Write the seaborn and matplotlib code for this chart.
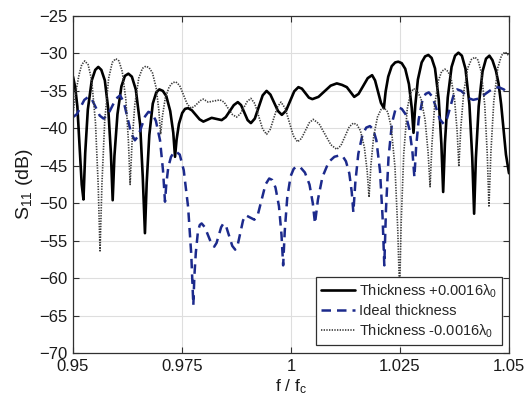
import matplotlib
matplotlib.use("Agg")
import matplotlib.pyplot as plt
import seaborn as sns
import pandas as pd

# Normalised frequency and reflection coefficient for the three layer thicknesses
f_plus = [0.9500, 0.9505, 0.9510, 0.9516, 0.9520, 0.9524, 0.9528, 0.9534, 0.9543, 0.9551,
          0.9558, 0.9565, 0.9573, 0.9581, 0.9587, 0.9591, 0.9595, 0.9602, 0.9611, 0.9619,
          0.9627, 0.9635, 0.9644, 0.9654, 0.9660, 0.9665, 0.9669, 0.9675, 0.9683, 0.9691,
          0.9698, 0.9706, 0.9714, 0.9723, 0.9730, 0.9734, 0.97376, 0.9743, 0.97505, 0.9757,
          0.9764, 0.97728, 0.97815, 0.97903, 0.9799, 0.98085, 0.9818, 0.98295, 0.9841, 0.98503,
          0.98595, 0.98688, 0.9878, 0.98855, 0.9893, 0.99005, 0.9908, 0.9917, 0.9926, 0.9935,
          0.9944, 0.99528, 0.99615, 0.99703, 0.9979, 0.99885, 0.9998, 1.00075, 1.0017, 1.0025,
          1.0033, 1.0041, 1.0049, 1.0063, 1.0077, 1.0091, 1.0105, 1.0117, 1.0128, 1.0137,
          1.0145, 1.0155, 1.01655, 1.0176, 1.0186, 1.01928, 1.01995, 1.02063, 1.0213, 1.0217,
          1.0223, 1.0231, 1.0239, 1.0246, 1.0254, 1.0262, 1.02705, 1.0277, 1.0281, 1.0285,
          1.0291, 1.02997, 1.03075, 1.0315, 1.03225, 1.03303, 1.03388, 1.03449, 1.0349, 1.0353,
          1.03595, 1.03683, 1.03763, 1.0384, 1.03919, 1.04002, 1.04092, 1.04157, 1.0420, 1.0424,
          1.04305, 1.04393, 1.04473, 1.0455, 1.0462, 1.0470, 1.0476, 1.0482, 1.0487, 1.0493,
          1.0500]
s11_plus = [-33.1, -34.5, -37.1, -43.5, -47.5, -49.5, -43.3, -37.5, -33.6, -32.2,
            -31.8, -32.2, -33.6, -37.5, -43.4, -49.6, -43.7, -38.1, -34.4, -33.0,
            -32.7, -33.1, -34.8, -39.5, -46.5, -54.0, -47.3, -40.9, -36.7, -35.2,
            -34.8, -35.0, -35.7, -37.7, -40.6, -43.8, -41.5, -39.4, -37.95, -37.4,
            -37.3, -37.6, -38.2, -38.8, -39.1, -38.85, -38.6, -38.75, -38.9, -38.5,
            -37.7, -36.9, -36.5, -36.9, -37.9, -38.9, -39.3, -38.7, -37.15, -35.6,
            -35.0, -35.5, -36.6, -37.7, -38.2, -37.65, -36.35, -35.05, -34.5, -34.7,
            -35.3, -35.9, -36.1, -35.8, -35.05, -34.3, -34.0, -34.2, -34.5, -35.2,
            -35.8, -35.4, -34.35, -33.3, -32.9, -33.6, -35.1, -36.6, -37.3, -35.1,
            -33.1, -31.7, -31.2, -31.1, -31.3, -32.05, -34.1, -37.3, -40.6, -36.95,
            -33.5, -31.2, -30.4, -30.2, -30.6, -32.0, -36.1, -42.1, -48.5, -42.0,
            -35.9, -31.8, -30.3, -29.9, -30.3, -32.05, -36.8, -43.9, -51.4, -44.0,
            -37.05, -32.4, -30.7, -30.3, -30.9, -32.3, -34.0, -36.8, -39.8, -43.5,
            -46.0]

f_ideal = [0.9500, 0.9509, 0.95175, 0.9526, 0.9535, 0.95438, 0.95525, 0.95613, 0.9570, 0.95795,
           0.9589, 0.95985, 0.9608, 0.96165, 0.9625, 0.96335, 0.9642, 0.96498, 0.96575, 0.96653,
           0.9673, 0.96814, 0.96901, 0.96996, 0.97064, 0.9711, 0.9714, 0.97185, 0.97248, 0.97305,
           0.9736, 0.97448, 0.9754, 0.9764, 0.97712, 0.9776, 0.97783, 0.97817, 0.97865, 0.97908,
           0.9795, 0.98023, 0.98095, 0.98168, 0.9824, 0.98293, 0.98345, 0.98398, 0.9845, 0.98518,
           0.98585, 0.98653, 0.9872, 0.9878, 0.9884, 0.9890, 0.9896, 0.9906, 0.9916, 0.99245,
           0.9933, 0.99415, 0.9950, 0.9957, 0.99644, 0.99724, 0.99782, 0.9982, 0.99857, 0.99913,
           0.99991, 1.00062, 1.0013, 1.00222, 1.00319, 1.00424, 1.0050, 1.0055, 1.00618, 1.00721,
           1.00864, 1.00995, 1.0112, 1.01188, 1.0126, 1.01337, 1.01393, 1.0143, 1.01476, 1.01544,
           1.01639, 1.01726, 1.0181, 1.01883, 1.01958, 1.02041, 1.0210, 1.0214, 1.02178, 1.02236,
           1.02316, 1.0239, 1.0246, 1.02541, 1.02626, 1.02719, 1.02786, 1.0283, 1.0287, 1.02929,
           1.03012, 1.03087, 1.0316, 1.03245, 1.0333, 1.03415, 1.0350, 1.03578, 1.03655, 1.03733,
           1.0381, 1.03903, 1.03995, 1.04088, 1.0418, 1.04325, 1.0447, 1.04615, 1.0476, 1.0488,
           1.0500]
s11_ideal = [-38.5, -38.1, -37.15, -36.2, -35.8, -36.2, -37.25, -38.3, -38.7, -38.25,
             -37.15, -36.05, -35.6, -36.5, -38.6, -40.7, -41.6, -41.0, -39.7, -38.4,
             -37.8, -38.0, -39.0, -41.6, -45.6, -49.8, -47.45, -45.2, -43.8, -43.3,
             -43.1, -43.5, -45.6, -50.5, -56.8, -63.6, -59.8, -56.6, -53.8, -52.9,
             -52.7, -53.2, -54.25, -55.3, -55.8, -55.3, -54.25, -53.2, -52.7, -53.2,
             -54.45, -55.7, -56.2, -55.5, -53.9, -52.3, -51.6, -51.9, -52.2, -51.4,
             -49.45, -47.5, -46.7, -46.9, -47.9, -50.4, -54.2, -58.3, -53.7, -49.3,
             -46.4, -45.4, -45.1, -45.25, -45.9, -47.5, -50.0, -52.7, -49.5, -46.5,
             -44.5, -43.8, -43.6, -43.75, -44.4, -46.0, -48.5, -51.2, -47.2, -43.4,
             -40.85, -39.9, -39.7, -40.1, -41.6, -45.65, -51.8, -58.3, -50.9, -43.95,
             -39.3, -37.6, -37.2, -37.4, -38.1, -40.2, -43.2, -46.5, -42.5, -38.8,
             -36.3, -35.4, -35.2, -35.8, -37.3, -38.8, -39.4, -38.7, -37.1, -35.5,
             -34.8, -35.0, -35.5, -36.0, -36.2, -36.0, -35.35, -34.75, -34.5, -34.8,
             -35.4]

f_minus = [0.9500, 0.9507, 0.9514, 0.9520, 0.9527, 0.95347, 0.95428, 0.95515, 0.95578, 0.9562,
           0.95663, 0.95728, 0.95818, 0.95901, 0.9598, 0.96053, 0.96129, 0.96211, 0.9627, 0.9631,
           0.96353, 0.96418, 0.96508, 0.96591, 0.9667, 0.96745, 0.96823, 0.96908, 0.96969, 0.9701,
           0.97052, 0.97115, 0.97203, 0.97283, 0.9736, 0.97448, 0.97535, 0.97623, 0.9771, 0.9778,
           0.9785, 0.9792, 0.9799, 0.98045, 0.9810, 0.98235, 0.9837, 0.98465, 0.9856, 0.98655,
           0.9875, 0.98833, 0.98915, 0.98998, 0.9908, 0.9917, 0.9926, 0.9935, 0.9944, 0.99523,
           0.99605, 0.99688, 0.9977, 0.99865, 0.9996, 1.00055, 1.0015, 1.0024, 1.0033, 1.0042,
           1.0051, 1.00645, 1.0078, 1.00915, 1.0105, 1.01145, 1.0124, 1.01335, 1.0143, 1.01509,
           1.01592, 1.01682, 1.01747, 1.0179, 1.01832, 1.01895, 1.01983, 1.02063, 1.0214, 1.02217,
           1.02298, 1.02385, 1.02448, 1.0249, 1.02528, 1.02586, 1.02666, 1.0274, 1.0281, 1.0289,
           1.02981, 1.03076, 1.03144, 1.0319, 1.03231, 1.03292, 1.03377, 1.03455, 1.0353, 1.0360,
           1.03674, 1.03754, 1.03812, 1.0385, 1.03894, 1.03961, 1.04054, 1.04139, 1.0422, 1.0429,
           1.04364, 1.04444, 1.04502, 1.0454, 1.04584, 1.04651, 1.04744, 1.04829, 1.0491, 1.0500]
s11_minus = [-38.0, -35.0, -32.8, -31.5, -31.0, -31.5, -33.55, -39.2, -47.6, -56.5,
             -47.5, -38.95, -33.3, -31.2, -30.7, -31.0, -32.4, -36.1, -41.6, -47.5,
             -42.0, -36.8, -33.3, -32.0, -31.7, -31.9, -32.6, -34.6, -37.6, -40.8,
             -38.35, -36.0, -34.5, -33.9, -33.8, -34.3, -35.55, -36.8, -37.3, -37.1,
             -36.7, -36.3, -36.1, -36.3, -36.5, -36.35, -36.2, -36.5, -37.35, -38.15,
             -38.5, -38.1, -37.25, -36.4, -36.0, -36.7, -38.4, -40.1, -40.8, -40.15,
             -38.65, -37.15, -36.5, -37.3, -39.15, -41.0, -41.8, -41.35, -40.3, -39.25,
             -38.8, -39.4, -40.8, -42.2, -42.8, -42.3, -41.05, -39.8, -39.3, -39.5,
             -40.3, -42.5, -45.7, -49.2, -45.0, -41.1, -38.5, -37.5, -37.3, -37.8,
             -39.8, -45.2, -53.4, -62.0, -52.4, -43.4, -37.4, -35.3, -34.7, -35.0,
             -36.0, -38.9, -43.2, -47.8, -42.3, -37.1, -33.7, -32.4, -32.1, -32.4,
             -33.4, -36.3, -40.55, -45.1, -40.0, -35.2, -31.95, -30.8, -30.5, -30.9,
             -32.5, -36.9, -43.5, -50.5, -43.3, -36.4, -31.9, -30.25, -29.8, -30.3]

series_labels = ["Thickness +0.0016λ$_0$", "Ideal thickness", "Thickness -0.0016λ$_0$"]
x_ticks = [0.95, 0.975, 1.0, 1.025, 1.05]
x_tick_labels = ["0.95", "0.975", "1", "1.025", "1.05"]
y_ticks = [-70, -65, -60, -55, -50, -45, -40, -35, -30, -25]

sns.set_style("white")
plt.rcParams["font.family"] = ["Liberation Sans", "DejaVu Sans"]
plt.rcParams["mathtext.default"] = "regular"

fig = plt.figure(figsize=(5.28, 4.13), dpi=100)
ax = fig.add_axes([73 / 528, 1 - 353 / 413, 436 / 528, 337 / 413])

frames = [
    pd.DataFrame({"f": f_plus, "s11": s11_plus}),
    pd.DataFrame({"f": f_ideal, "s11": s11_ideal}),
    pd.DataFrame({"f": f_minus, "s11": s11_minus}),
]
styles = [
    dict(color="black", linewidth=1.9, linestyle="-"),
    dict(color="#1c2a8c", linewidth=1.8, linestyle="--"),
    dict(color="#3a3a3a", linewidth=1.2, linestyle=":"),
]
for df, lab, st in zip(frames, series_labels, styles):
    sns.lineplot(data=df, x="f", y="s11", ax=ax, label=lab, estimator=None,
                 sort=False, **st)

ax.lines[1].set_dashes([3.8, 2.4])
ax.lines[2].set_dashes([0.8, 0.8])

ax.set_xlim(0.95, 1.05)
ax.set_ylim(-70, -25)
ax.set_xticks(x_ticks)
ax.set_xticklabels(x_tick_labels)
ax.set_yticks(y_ticks)
ax.grid(True, color="#dedede", linewidth=0.8, linestyle="-")
ax.set_axisbelow(True)

spine_col = "#303030"
for sp in ax.spines.values():
    sp.set_color(spine_col)
    sp.set_linewidth(0.9)
ax.tick_params(direction="in", length=4, width=0.8, colors=spine_col,
               labelcolor="#1a1a1a", labelsize=12, top=True, right=True,
               bottom=True, left=True, pad=4)

ax.set_xlabel("f / f$_c$", fontsize=12.5, color="#1a1a1a", labelpad=3)
ax.set_ylabel("S$_{11}$ (dB)", fontsize=14, color="#1a1a1a", labelpad=3)

leg = ax.legend(loc="lower right", bbox_to_anchor=(0.984, 0.024), borderaxespad=0,
                fontsize=10.5, frameon=True, fancybox=False, framealpha=1,
                edgecolor="#303030", handlelength=2.3, handletextpad=0.3,
                labelspacing=0.3, borderpad=0.35)
leg.get_frame().set_linewidth(0.9)

fig.savefig("out.png", dpi=100)
